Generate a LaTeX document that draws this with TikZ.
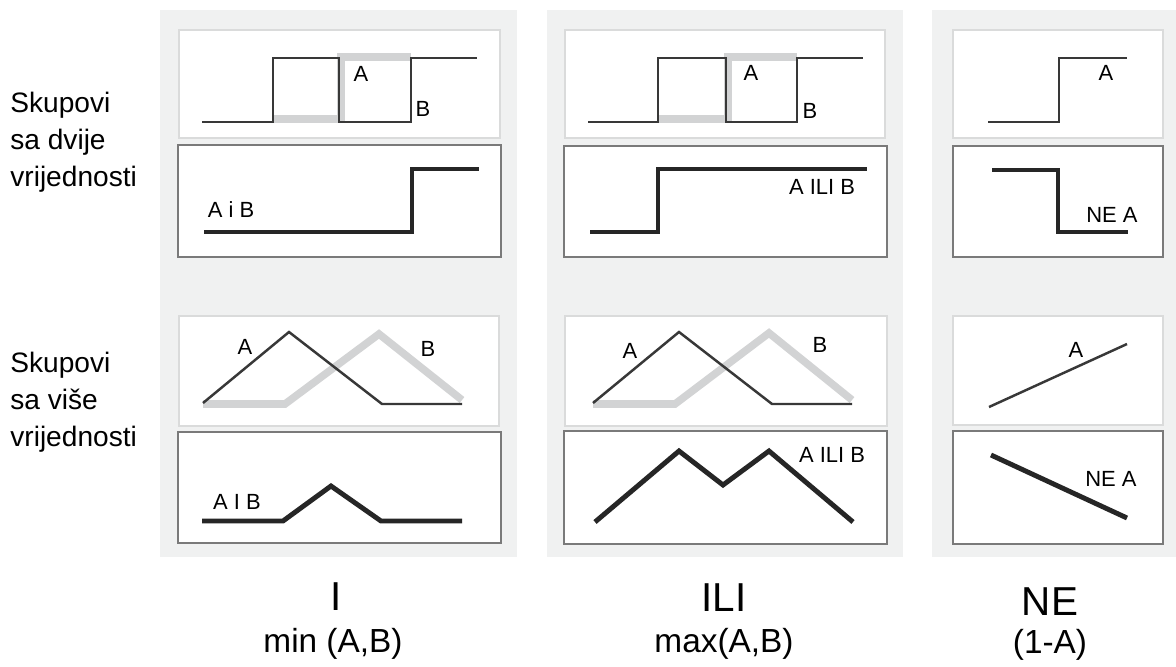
\documentclass[tikz,border=0pt]{standalone}
\usepackage{fontspec}
\setmainfont{Liberation Sans}

\definecolor{colbg}{HTML}{F0F1F1}
\definecolor{lightframe}{HTML}{DADBDB}
\definecolor{darkframe}{HTML}{7A7A7A}
\definecolor{bandgray}{HTML}{D2D3D4}

\begin{document}
\begin{tikzpicture}[x=0.02cm,y=-0.02cm,
    panel/.style={fill=white,draw=lightframe,line width=1pt},
    respanel/.style={fill=white,draw=darkframe,line width=1.1pt},
    setA/.style={draw=black!78,line width=1.4pt},
    setB/.style={draw=bandgray,line width=4.3pt},
    result/.style={draw=black!85,line width=2.8pt},
    lbl/.style={font=\fontsize{12.5}{14}\selectfont,inner sep=0pt},
    rowlbl/.style={font=\fontsize{16}{21}\selectfont,align=left,anchor=north west,inner sep=0pt},
    oplbl/.style={font=\fontsize{23}{26}\selectfont,inner sep=0pt},
    fnlbl/.style={font=\fontsize{19}{22}\selectfont,inner sep=0pt}]
        \useasboundingbox (0,0) rectangle (1176,666);

        % Row labels
        \node[rowlbl] (crisp) at (10,92) {Skupovi\\sa dvije\\vrijednosti};
        \node[rowlbl] (fuzzy) at (10,352) {Skupovi\\sa više\\vrijednosti};

        % Column I
        \fill[colbg] (160,10) rectangle (517,557);
        \draw[panel] (179,30) rectangle (500,138);
        \draw[respanel] (178,145) rectangle (501,257);
        \draw[setB] (273,119) -- (341,119) -- (341,57) -- (411,57);
        \draw[setA] (202,122) -- (273,122) -- (273,58) -- (339,58) -- (339,122) -- (411,122) -- (411,58) -- (477,58);
        \node[lbl] (minA) at (361,74) {A};
        \node[lbl] (minB) at (423,109) {B};
        \draw[result] (204,232) -- (412,232) -- (412,169) -- (479,169);
        \node[lbl] (minAB) at (231,210) {A i B};

        \draw[panel] (179,316) rectangle (499,426);
        \draw[respanel] (178,432) rectangle (501,543);
        \draw[setB] (203,404) -- (285,404) -- (379,334) -- (462,400);
        \draw[setA] (203,403) -- (289,332) -- (382,404) -- (462,404);
        \node[lbl] (minfA) at (245,347) {A};
        \node[lbl] (minfB) at (428,349) {B};
        \draw[result] (202,521) -- (283,521) -- (331,486) -- (381,521) -- (462,521);
        \node[lbl] (minfAB) at (237,502) {A I B};

        \node[oplbl] (andop) at (336,597) {I};
        \node[fnlbl] (andfn) at (333,644) {min (A,B)};

        % Column ILI
        \fill[colbg] (547,10) rectangle (903,557);
        \draw[panel] (565,30) rectangle (885,138);
        \draw[respanel] (564,146) rectangle (887,257);
        \draw[setB] (658,119) -- (728,119) -- (728,57) -- (797,57);
        \draw[setA] (588,122) -- (658,122) -- (658,58) -- (726,58) -- (726,122) -- (797,122) -- (797,58) -- (863,58);
        \node[lbl] (maxA) at (751,73) {A};
        \node[lbl] (maxB) at (810,111) {B};
        \draw[result] (590,232) -- (658,232) -- (658,169) -- (867,169);
        \node[lbl] (maxAB) at (822,187) {A ILI B};

        \draw[panel] (565,316) rectangle (887,426);
        \draw[respanel] (564,431) rectangle (887,544);
        \draw[setB] (593,404) -- (675,404) -- (769,333) -- (852,400);
        \draw[setA] (593,403) -- (679,332) -- (772,404) -- (852,404);
        \node[lbl] (maxfA) at (630,351) {A};
        \node[lbl] (maxfB) at (820,345) {B};
        \draw[result] (595,522) -- (679,451) -- (723,485) -- (769,451) -- (853,522);
        \node[lbl] (maxfAB) at (832,455) {A ILI B};

        \node[oplbl] (orop) at (724,598) {ILI};
        \node[fnlbl] (orfn) at (724,644) {max(A,B)};

        % Column NE
        \fill[colbg] (932,10) rectangle (1176,557);
        \draw[panel] (953,30) rectangle (1163,138);
        \draw[respanel] (953,146) rectangle (1163,257);
        \draw[setA] (988,122) -- (1059,122) -- (1059,58) -- (1127,58);
        \node[lbl] (notA) at (1106,73) {A};
        \draw[result] (992,170) -- (1058,170) -- (1058,232) -- (1128,232);
        \node[lbl] (notNA) at (1112,215) {NE A};

        \draw[panel] (953,316) rectangle (1163,425);
        \draw[respanel] (953,431) rectangle (1163,544);
        \draw[setA] (989,407) -- (1127,344);
        \node[lbl] (notfA) at (1076,350) {A};
        \draw[result] (991,455) -- (1127,518);
        \node[lbl] (notfNA) at (1111,479) {NE A};

        \node[oplbl] (notop) at (1050,602) {NE};
        \node[fnlbl] (notfn) at (1050,645) {(1-A)};
\end{tikzpicture}
\end{document}
